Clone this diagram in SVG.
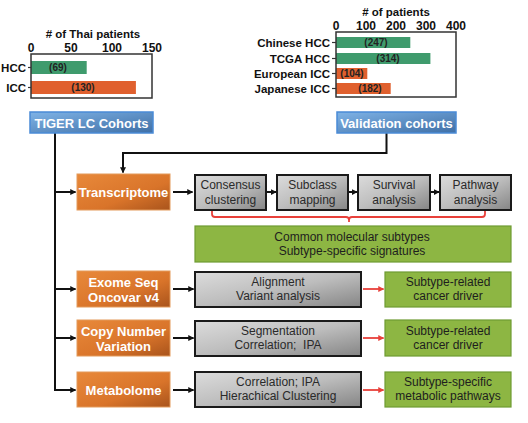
<svg xmlns="http://www.w3.org/2000/svg" width="528" height="423" viewBox="0 0 528 423">
<defs>
<linearGradient id="gBlue" x1="0" y1="0" x2="1" y2="1">
<stop offset="0" stop-color="#7FB3E6"/><stop offset="1" stop-color="#3F6FA6"/>
</linearGradient>
<linearGradient id="gOrange" x1="0" y1="0" x2="1" y2="1">
<stop offset="0" stop-color="#E8893A"/><stop offset="0.6" stop-color="#D9742A"/><stop offset="1" stop-color="#A9541C"/>
</linearGradient>
<linearGradient id="gGray" x1="0" y1="0" x2="1" y2="1">
<stop offset="0" stop-color="#DCDCDC"/><stop offset="0.5" stop-color="#BDBDBD"/><stop offset="1" stop-color="#858585"/>
</linearGradient>
<marker id="ab" viewBox="0 0 8 8" refX="7" refY="4" markerWidth="6" markerHeight="6" orient="auto" markerUnits="userSpaceOnUse">
<path d="M0,0 L8,4 L0,8 z" fill="#111"/>
</marker>
<marker id="ar" viewBox="0 0 8 8" refX="7" refY="4" markerWidth="6" markerHeight="6" orient="auto" markerUnits="userSpaceOnUse">
<path d="M0,0 L8,4 L0,8 z" fill="#E8403A"/>
</marker>
</defs>
<style>
text{font-family:"Liberation Sans",Arial,sans-serif}
.lab{font-size:11.5px;font-weight:bold;fill:#111}
.ax{font-size:12px;font-weight:bold;fill:#111;text-anchor:middle}
.bv{font-size:10px;font-weight:bold;fill:#222;text-anchor:middle}
.frame{fill:none;stroke:#333;stroke-width:1.5}
.barG{fill:#3F9B6D}
.barO{fill:#E0602E}
.blue{fill:url(#gBlue);stroke:#4A8BD6;stroke-width:1.5}
.orange{fill:url(#gOrange);stroke:#E39A5A;stroke-width:1}
.gray{fill:url(#gGray);stroke:#1A1A1A;stroke-width:2}
.green{fill:#8DB643;stroke:#6E9B33;stroke-width:1.2}
.wt{font-size:13px;font-weight:bold;fill:#fff;text-anchor:middle}
.gt{font-size:12px;fill:#2A2A2A;text-anchor:middle}
.kt{font-size:12px;fill:#1E1E1E;text-anchor:middle}
.ln{fill:none;stroke:#111;stroke-width:2}
.rl{fill:none;stroke:#E8403A;stroke-width:1.8}
</style>
<rect width="528" height="423" fill="#fff"/>

<g id="chart-thai">
<text x="93" y="38" class="lab" text-anchor="middle">&#35; of Thai patients</text>
<text x="31" y="52" class="ax">0</text>
<text x="71" y="52" class="ax">50</text>
<text x="112" y="52" class="ax">100</text>
<text x="152" y="52" class="ax">150</text>
<rect x="31" y="61" width="55.7" height="13" class="barG"/>
<rect x="31" y="81" width="104.9" height="13" class="barO"/>
<rect x="31" y="54" width="121" height="44" class="frame"/>
<line x1="28" y1="67.5" x2="31" y2="67.5" stroke="#333" stroke-width="1.2"/>
<line x1="28" y1="87.5" x2="31" y2="87.5" stroke="#333" stroke-width="1.2"/>
<text x="26" y="72" class="lab" text-anchor="end">HCC</text>
<text x="26" y="92" class="lab" text-anchor="end">ICC</text>
<text x="58" y="71" class="bv">(69)</text>
<text x="83" y="91" class="bv">(130)</text>
</g>

<g id="chart-validation">
<text x="396" y="16" class="lab" text-anchor="middle">&#35; of patients</text>
<text x="336" y="30" class="ax">0</text>
<text x="366" y="30" class="ax">100</text>
<text x="396" y="30" class="ax">200</text>
<text x="426" y="30" class="ax">300</text>
<text x="456" y="30" class="ax">400</text>
<rect x="336" y="37" width="74.3" height="11" class="barG"/>
<rect x="336" y="53" width="94.4" height="11" class="barG"/>
<rect x="336" y="68" width="31.3" height="11" class="barO"/>
<rect x="336" y="83" width="54.7" height="11" class="barO"/>
<rect x="336" y="32" width="120" height="65" class="frame"/>
<line x1="332" y1="42.5" x2="336" y2="42.5" stroke="#333" stroke-width="1.2"/>
<line x1="332" y1="58.5" x2="336" y2="58.5" stroke="#333" stroke-width="1.2"/>
<line x1="332" y1="73.5" x2="336" y2="73.5" stroke="#333" stroke-width="1.2"/>
<line x1="332" y1="88.5" x2="336" y2="88.5" stroke="#333" stroke-width="1.2"/>
<text x="330" y="47" class="lab" text-anchor="end">Chinese HCC</text>
<text x="330" y="63" class="lab" text-anchor="end">TCGA HCC</text>
<text x="330" y="78" class="lab" text-anchor="end">European ICC</text>
<text x="330" y="93" class="lab" text-anchor="end">Japanese ICC</text>
<text x="376" y="46" class="bv">(247)</text>
<text x="388" y="62" class="bv">(314)</text>
<text x="352" y="77" class="bv">(104)</text>
<text x="370" y="92" class="bv">(182)</text>
</g>

<g id="connectors">
<polyline points="55,133 55,390" class="ln"/>
<polyline points="386.5,133 386.5,153 123,153 123,172.5" class="ln" marker-end="url(#ab)"/>
<line x1="55" y1="192" x2="75.5" y2="192" class="ln" marker-end="url(#ab)"/>
<line x1="55" y1="289" x2="75.5" y2="289" class="ln" marker-end="url(#ab)"/>
<line x1="55" y1="338" x2="75.5" y2="338" class="ln" marker-end="url(#ab)"/>
<line x1="54" y1="390" x2="75.5" y2="390" class="ln" marker-end="url(#ab)"/>
<line x1="173" y1="192" x2="192.5" y2="192" class="ln" marker-end="url(#ab)"/>
<line x1="173" y1="289" x2="193.5" y2="289" class="ln" marker-end="url(#ab)"/>
<line x1="173" y1="338" x2="193.5" y2="338" class="ln" marker-end="url(#ab)"/>
<line x1="173" y1="390" x2="193.5" y2="390" class="ln" marker-end="url(#ab)"/>
<line x1="267" y1="192" x2="276" y2="192" class="ln" marker-end="url(#ab)"/>
<line x1="349" y1="192" x2="357" y2="192" class="ln" marker-end="url(#ab)"/>
<line x1="431" y1="192" x2="439" y2="192" class="ln" marker-end="url(#ab)"/>
<path d="M212,211 V214 Q212,217 215,217 H346 Q349,217 349,220 V222 M349,220 Q349,217 352,217 H482 Q485,217 485,214 V211" class="rl"/>
<line x1="363" y1="289" x2="383.5" y2="289" class="rl" marker-end="url(#ar)"/>
<line x1="363" y1="338" x2="383.5" y2="338" class="rl" marker-end="url(#ar)"/>
<line x1="363" y1="390" x2="383.5" y2="390" class="rl" marker-end="url(#ar)"/>
</g>

<g id="tiger">
<rect x="30" y="112" width="123" height="21" class="blue"/>
<text x="91.5" y="127.5" class="wt">TIGER LC Cohorts</text>
</g>
<g id="validation">
<rect x="337" y="112" width="119" height="21" class="blue"/>
<text x="396.5" y="127.5" class="wt">Validation cohorts</text>
</g>

<g id="transcriptome">
<rect x="77" y="174" width="93" height="36" class="orange"/>
<text x="123.5" y="196.5" class="wt">Transcriptome</text>
</g>
<g id="exome">
<rect x="77" y="271" width="93" height="36" class="orange"/>
<text x="123.5" y="287" class="wt">Exome Seq</text>
<text x="123.5" y="302" class="wt">Oncovar v4</text>
</g>
<g id="cnv">
<rect x="77" y="320" width="93" height="36" class="orange"/>
<text x="123.5" y="336" class="wt">Copy Number</text>
<text x="123.5" y="351" class="wt">Variation</text>
</g>
<g id="metabolome">
<rect x="77" y="372" width="93" height="35" class="orange"/>
<text x="123.5" y="394.5" class="wt">Metabolome</text>
</g>

<g id="consensus">
<rect x="195" y="175" width="71" height="35" class="gray"/>
<text x="230.5" y="189" class="gt">Consensus</text>
<text x="230.5" y="204" class="gt">clustering</text>
</g>
<g id="subclass">
<rect x="277" y="175" width="71" height="35" class="gray"/>
<text x="312.5" y="189" class="gt">Subclass</text>
<text x="312.5" y="204" class="gt">mapping</text>
</g>
<g id="survival">
<rect x="358" y="175" width="72" height="35" class="gray"/>
<text x="394" y="189" class="gt">Survival</text>
<text x="394" y="204" class="gt">analysis</text>
</g>
<g id="pathway">
<rect x="440" y="175" width="71" height="35" class="gray"/>
<text x="475.5" y="189" class="gt">Pathway</text>
<text x="475.5" y="204" class="gt">analysis</text>
</g>

<g id="common">
<rect x="195" y="226" width="316" height="36" class="green"/>
<text x="352" y="241" class="kt">Common molecular subtypes</text>
<text x="352" y="255" class="kt">Subtype-specific signatures</text>
</g>

<g id="alignment">
<rect x="195" y="272" width="166" height="35" class="gray"/>
<text x="278" y="286" class="gt">Alignment</text>
<text x="278" y="300" class="gt">Variant analysis</text>
</g>
<g id="segmentation">
<rect x="195" y="321" width="166" height="35" class="gray"/>
<text x="278" y="335" class="gt">Segmentation</text>
<text x="278" y="349" class="gt">Correlation;&#160; IPA</text>
</g>
<g id="correlation">
<rect x="195" y="372" width="166" height="35" class="gray"/>
<text x="278" y="386" class="gt">Correlation; IPA</text>
<text x="278" y="400" class="gt">Hierachical Clustering</text>
</g>

<g id="driver1">
<rect x="385" y="272" width="126" height="35" class="green"/>
<text x="448" y="286" class="kt">Subtype-related</text>
<text x="448" y="300" class="kt">cancer driver</text>
</g>
<g id="driver2">
<rect x="385" y="320" width="126" height="36" class="green"/>
<text x="448" y="334.5" class="kt">Subtype-related</text>
<text x="448" y="349" class="kt">cancer driver</text>
</g>
<g id="metabolic">
<rect x="385" y="372" width="126" height="35" class="green"/>
<text x="448" y="386" class="kt">Subtype-specific</text>
<text x="448" y="400" class="kt">metabolic pathways</text>
</g>
</svg>
